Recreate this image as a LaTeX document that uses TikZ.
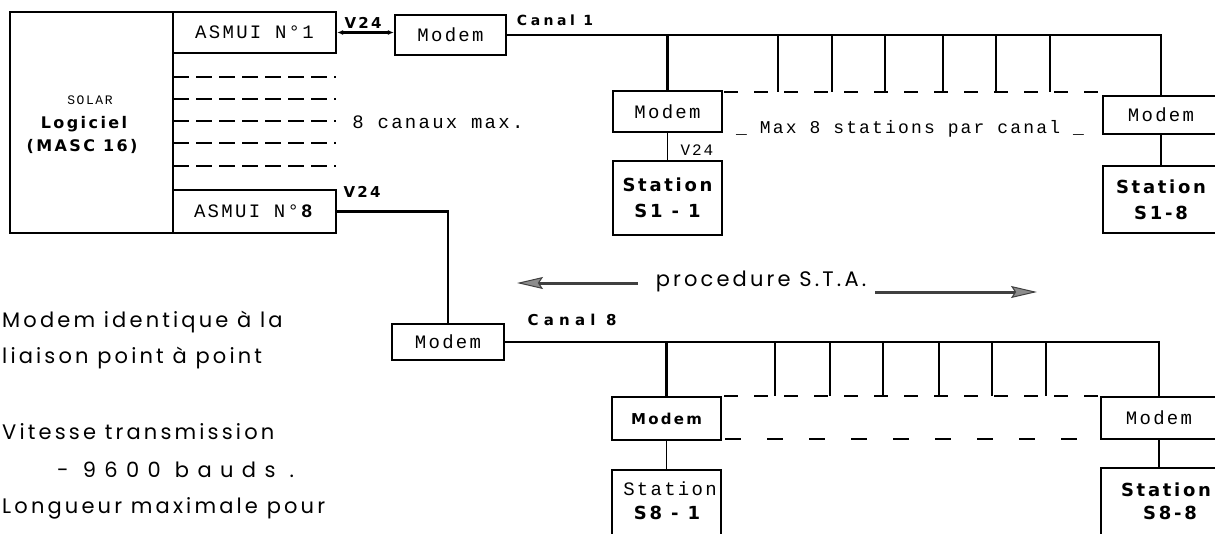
\documentclass[tikz,border=0pt]{standalone}
\usepackage{fontspec}
\setmainfont{Liberation Sans}
\newfontfamily\typf[LetterSpace=12]{Liberation Mono}
\newfontfamily\boldf[LetterSpace=15]{DejaVu Sans}
\newfontfamily\handf[LetterSpace=15]{Poppins}
\usetikzlibrary{arrows.meta}
\begin{document}
\begin{tikzpicture}[x=1pt,y=-1pt,
  box/.style={draw, line width=2.2pt, inner sep=0pt, rectangle},
  wire/.style={line width=2.2pt},
  thinwire/.style={line width=1.5pt},
  dline/.style={line width=2.4pt, dash pattern=on 16pt off 7pt},
  feet/.style={line width=2pt, dash pattern=on 14pt off 16pt},
  feetb/.style={line width=2pt, dash pattern=on 16pt off 26pt},
  typ/.style={font=\typf\fontsize{19}{26}\selectfont},
  typs/.style={font=\typf\fontsize{13}{16}\selectfont},
  bl/.style={font=\boldf\bfseries\fontsize{18}{26}\selectfont, align=center},
  blm/.style={font=\boldf\bfseries\fontsize{15}{18}\selectfont},
  hnd/.style={font=\handf\fontsize{21}{24}\selectfont, anchor=west, inner sep=0pt},
  sta/.style={line width=3pt, draw=black!75, -{Stealth[length=26pt,width=12pt,inset=4pt,fill=black!45,line width=1pt]}}
]
\path[use as bounding box, fill=white] (0,0) rectangle (1215,533);

% --- SOLAR computer and ASMUI boards
\node[box, minimum width=163, minimum height=221] (solar) at (91.5,122.5) {};
\node[typs] (solart) at (90,100) {SOLAR};
\node[blm, font=\boldf\bfseries\fontsize{16}{18}\selectfont] (logi) at (84,124) {Logiciel};
\node[blm, font=\boldf\bfseries\fontsize{16}{18}\selectfont] (masc) at (82,146) {(MASC 16)};
\node[box, typ, minimum width=163, minimum height=41] (asmui1) at (254.5,32.5) {ASMUI N°1};
\node[box, typ, minimum width=163, minimum height=43] (asmui8) at (254.5,211.5) {ASMUI N°\textbf{8}};
\foreach \y in {77,99,121,143,166} \draw[dline] (173,\y) -- (336,\y);
\node[typ] (canaux) at (438,122) {8 canaux max.};

% --- Canal 1
\node[blm] (v24a) at (363,23) {V24};
\node[box, typ, minimum width=111, minimum height=40] (modem1) at (450.5,35) {Modem};
\draw[wire, {Latex[length=6pt,width=5pt]}-{Latex[length=6pt,width=5pt]}] (asmui1.east) -- (asmui1.east -| modem1.west);
\node[blm, font=\boldf\bfseries\addfontfeature{LetterSpace=25}\fontsize{14}{18}\selectfont] (canal1) at (555,20) {Canal 1};
\node[box, typ, minimum width=109, minimum height=41] (modemA1) at (667.5,111.5) {Modem};
\node[box, bl, minimum width=109, minimum height=74] (statA1) at (667.5,198) {Station\\S1 - 1};
\node[box, typ, minimum width=116, minimum height=38] (modemA8) at (1161,115) {Modem};
\node[box, bl, minimum width=116, minimum height=67] (statA8) at (1161,199.5) {Station\\S1-8};
\draw[wire] (modem1.east) -| (modemA8.north);
\draw[wire] (modemA1.north) -- (modemA1.north |- modem1.east);
\draw[thinwire] (modemA1.south) -- (statA1.north);
\draw[thinwire] (modemA8.south) -- (statA8.north);
\node[typ, font=\typf\fontsize{16}{18}\selectfont] (v24c) at (697,150) {V24};
\foreach \x in {778,832,885,943,996,1050} \draw[wire] (\x,35) -- (\x,92);
\draw[feet] (724,92) -- (1098,92);
\node[typ, font=\typf\fontsize{18}{22}\selectfont] (maxst) at (910,129) {\_ Max 8 stations par canal \_};

% --- Canal 8
\node[blm] (v24b) at (362,192) {V24};
\node[box, typ, minimum width=112, minimum height=36] (modem8) at (448,342) {Modem};
\draw[wire] (asmui8.east) -| (modem8.north);
\node[blm, font=\boldf\bfseries\addfontfeature{LetterSpace=35}\fontsize{15}{18}\selectfont] (canal8) at (572,320) {Canal 8};
\node[box, blm, minimum width=109, minimum height=43] (modemB1) at (666.5,418.5) {Modem};
\node[box, minimum width=109, minimum height=90] (statB1) at (666.5,515) {};
\node[typ] (statB1a) at (670,489) {Station};
\node[bl] (statB1b) at (667,513) {S8 - 1};
\node[box, typ, minimum width=116, minimum height=42] (modemB8) at (1159,418) {Modem};
\node[box, minimum width=116, minimum height=92] (statB8) at (1159,514) {};
\node[bl] (statB8a) at (1166,490) {Station};
\node[bl] (statB8b) at (1170,513) {S8-8};
\draw[wire] (modem8.east) -| (modemB8.north);
\draw[wire] (modemB1.north) -- (modemB1.north |- modem8.east);
\draw[thinwire] (modemB1.south) -- (statB1.north);
\draw[thinwire] (modemB8.south) -- (statB8.north);
\foreach \x in {775,830,883,939,992,1046} \draw[wire] (\x,342) -- (\x,396);
\draw[feet] (724,396) -- (1098,396);
\draw[feetb] (725,439) -- (1098,439);

% --- procedure S.T.A.
\node[hnd, anchor=center] (proc) at (761,281) {procedure S.T.A.};
\coordinate (plA) at (638,283);
\coordinate (plB) at (517,283);
\coordinate (prA) at (875,292);
\coordinate (prB) at (1037,292);
\draw[sta] (plA) -- (plB);
\draw[sta] (prA) -- (prB);

% --- handwritten notes
\node[hnd] (n1) at (2,322) {Modem identique à la};
\node[hnd] (n2) at (2,358) {liaison point à point};
\node[hnd] (n3) at (2,432) {Vitesse transmission};
\node[hnd, font=\handf\addfontfeature{LetterSpace=40}\fontsize{21}{24}\selectfont] (n4) at (57,470) {- 9600 bauds .};
\node[hnd] (n5) at (2,508) {Longueur maximale pour};
\end{tikzpicture}
\end{document}
